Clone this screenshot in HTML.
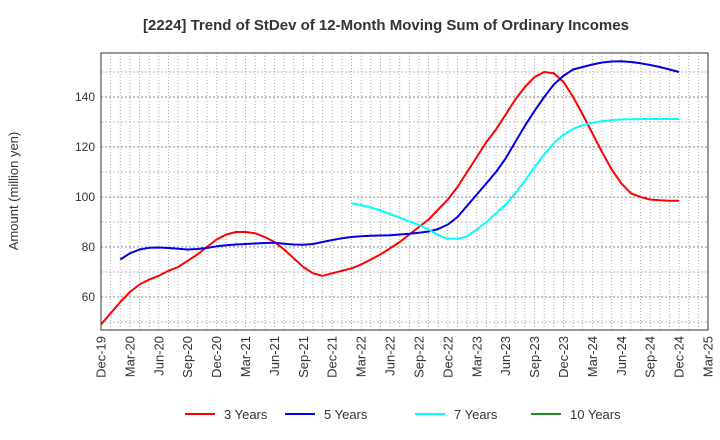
<!DOCTYPE html>
<html><head><meta charset="utf-8"><style>
body{margin:0;background:#fff;font-family:"Liberation Sans",Arial,sans-serif}
svg{display:block}
</style></head><body>
<svg id="chart" width="720" height="440">
<text x="386" y="30" text-anchor="middle" font-size="15" font-weight="bold" fill="#333">[2224]  Trend of StDev of 12-Month Moving Sum of Ordinary Incomes</text>
<text transform="translate(18,191) rotate(-90)" text-anchor="middle" font-size="13" fill="#333">Amount (million yen)</text>
<g id="grid"></g><g id="axes"></g><g id="series"></g><g id="legend"></g>
</svg>
<script>
const xLabels=["Dec-19","Mar-20","Jun-20","Sep-20","Dec-20","Mar-21","Jun-21","Sep-21","Dec-21","Mar-22","Jun-22","Sep-22","Dec-22","Mar-23","Jun-23","Sep-23","Dec-23","Mar-24","Jun-24","Sep-24","Dec-24","Mar-25"];
const yTicks=[60,80,100,120,140];
const seriesNames=["3 Years","5 Years","7 Years","10 Years"];
const seriesColors=["#ff0000","#0000ee","#00ffff","#228b22"];
const years3=[49,53.5,58,62,65,67,68.5,70.5,72,74.5,77,80,83,85,86,86,85.5,84,82,79,75.5,72,69.5,68.5,69.5,70.5,71.5,73,75,77,79.5,82,85,88,91,95,99,104,110,116,122,127,133,139,144,148,150,149.5,146,140,133,125.5,118,111,105.5,101.5,100,99,98.7,98.5,98.5];
const years5=[null,null,75,77.5,79,79.7,79.8,79.6,79.3,79,79.2,79.6,80.3,80.7,81,81.2,81.4,81.6,81.7,81.3,81,80.9,81.2,82,82.8,83.5,84,84.3,84.5,84.6,84.7,85,85.3,85.7,86.2,87.2,89,92,96.5,101,105.5,110,115.5,122,128.5,134.5,140,145,148.5,151,152,153,153.8,154.2,154.3,154,153.5,152.8,152,151,150];
const years7=[null,null,null,null,null,null,null,null,null,null,null,null,null,null,null,null,null,null,null,null,null,null,null,null,null,null,97.5,96.8,95.8,94.6,93.2,91.8,90.3,88.8,87,84.8,83.3,83.3,84.3,87,90,93.5,97,101.5,106.5,112,117,121.5,125,127.3,128.7,129.7,130.3,130.8,131,131.1,131.2,131.2,131.2,131.2,131.2];
const years10=[];
const L=101,R=708,T=53,B=330,NM=63;
const xm=m=>L+(R-L)*m/NM;
const y=v=>297-(v-60)*2.5;
const NS="http://www.w3.org/2000/svg";
function mk(t,a,p){const e=document.createElementNS(NS,t);for(const k in a)e.setAttribute(k,a[k]);p.appendChild(e);return e;}
const grid=document.getElementById('grid'),axes=document.getElementById('axes'),ser=document.getElementById('series'),leg=document.getElementById('legend');
for(let m=1;m<NM;m++){const l=mk('line',{x1:xm(m),x2:xm(m),y1:T,y2:B,stroke:'#aaa','stroke-dasharray':'1,2','stroke-width':1},grid);

}
for(let v=50;v<=155;v+=10){if(y(v)<=T||y(v)>=B)continue;const l=mk('line',{x1:L,x2:R,y1:y(v),y2:y(v),stroke:v%20==0?'#888':'#bbb','stroke-dasharray':'2,2','stroke-width':1},grid);

}
const fr=mk('rect',{x:L,y:T,width:R-L,height:B-T,fill:'none',stroke:'#333','stroke-width':1},axes);


yTicks.forEach(v=>{const t=mk('text',{x:L-6,y:y(v)+4,'text-anchor':'end','font-size':12,fill:'#333'},axes);t.textContent=v;

});
xLabels.forEach((s,i)=>{const x=xm(i*3);const t=mk('text',{transform:`translate(${x+4.5},${B+6}) rotate(-90)`,'text-anchor':'end','font-size':13,fill:'#333'},axes);t.textContent=s;

});
[years3,years5,years7,years10].forEach((arr,si)=>{let d='';let pen=false;arr.forEach((v,i)=>{if(v==null){pen=false;return;}d+=(pen?'L':'M')+xm(i).toFixed(1)+','+y(v).toFixed(1);pen=true;});
if(!d)return;const p=mk('path',{d:d,fill:'none',stroke:seriesColors[si],'stroke-width':2,'stroke-linejoin':'round'},ser);

});
const lx=[185,285,415,531];
seriesNames.forEach((n,i)=>{const g=mk('g',{},leg);


mk('line',{x1:lx[i],x2:lx[i]+30,y1:414,y2:414,stroke:seriesColors[i],'stroke-width':2},g);
const t=mk('text',{x:lx[i]+39,y:419,'font-size':13,fill:'#333'},g);t.textContent=n;});
</script>
</body></html>
